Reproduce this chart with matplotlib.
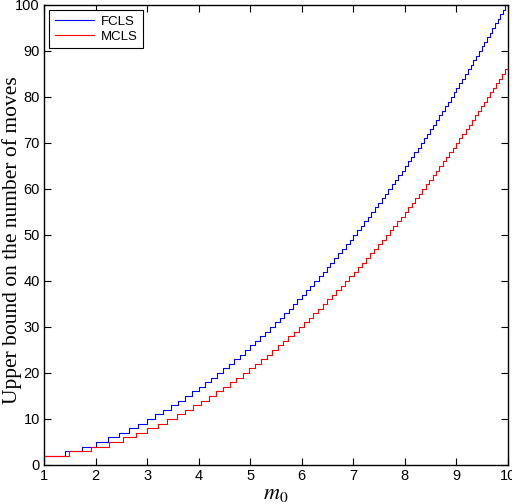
import numpy as np
import matplotlib
matplotlib.use("Agg")
import matplotlib.pyplot as plt

# ---- data ----
x_min, x_max = 1, 10

# FCLS: level at m0 = 1, then +1 at each step position
fcls_start = 2
fcls_steps = [1.414, 1.732, 2.000, 2.236, 2.449, 2.646, 2.828, 3.000, 3.162, 3.317,
              3.464, 3.606, 3.742, 3.873, 4.000, 4.123, 4.243, 4.359, 4.472, 4.583,
              4.690, 4.796, 4.899, 5.000, 5.099, 5.196, 5.292, 5.385, 5.477, 5.568,
              5.657, 5.745, 5.831, 5.916, 6.000, 6.083, 6.164, 6.245, 6.325, 6.403,
              6.481, 6.557, 6.633, 6.708, 6.782, 6.856, 6.928, 7.000, 7.071, 7.141,
              7.211, 7.280, 7.348, 7.416, 7.483, 7.550, 7.616, 7.681, 7.746, 7.810,
              7.874, 7.937, 8.000, 8.062, 8.124, 8.185, 8.246, 8.307, 8.367, 8.426,
              8.485, 8.544, 8.602, 8.660, 8.718, 8.775, 8.832, 8.888, 8.944, 9.000,
              9.055, 9.110, 9.165, 9.220, 9.274, 9.327, 9.381, 9.434, 9.487, 9.539,
              9.592, 9.644, 9.695, 9.747, 9.798, 9.849, 9.899, 9.950]

# MCLS: level at m0 = 1, then +1 at each step position
mcls_start = 2
mcls_steps = [1.481, 1.920, 2.253, 2.533, 2.778, 3.000, 3.204, 3.393, 3.571, 3.739,
              3.898, 4.051, 4.197, 4.338, 4.474, 4.605, 4.732, 4.856, 4.977, 5.094,
              5.207, 5.319, 5.428, 5.535, 5.639, 5.741, 5.841, 5.940, 6.037, 6.131,
              6.225, 6.317, 6.407, 6.497, 6.585, 6.671, 6.757, 6.841, 6.924, 7.006,
              7.088, 7.168, 7.247, 7.325, 7.403, 7.479, 7.555, 7.630, 7.704, 7.777,
              7.850, 7.922, 7.993, 8.063, 8.134, 8.203, 8.271, 8.339, 8.407, 8.474,
              8.540, 8.606, 8.671, 8.736, 8.800, 8.864, 8.927, 8.990, 9.052, 9.114,
              9.176, 9.237, 9.297, 9.357, 9.417, 9.477, 9.536, 9.594, 9.653, 9.710,
              9.768, 9.825, 9.882, 9.938, 9.995]

x_ticks = [1, 2, 3, 4, 5, 6, 7, 8, 9, 10]
y_ticks = [0, 10, 20, 30, 40, 50, 60, 70, 80, 90, 100]


def stair(start, steps):
    xs = [x_min] + list(steps) + [x_max]
    ys = [start + i for i in range(len(steps) + 1)]
    ys = ys + [ys[-1]]
    return xs, ys


plt.rcParams['mathtext.fontset'] = 'stix'
plt.rcParams['font.family'] = ['Liberation Sans', 'DejaVu Sans']

fig = plt.figure(figsize=(5.12, 5.04), dpi=100)
ax = fig.add_axes([44 / 512, 39 / 504, 464 / 512, 460 / 504])

fx, fy = stair(fcls_start, fcls_steps)
mx, my = stair(mcls_start, mcls_steps)
ax.step(fx, fy, where='post', color='#0000ff', lw=0.8, label='FCLS')
ax.step(mx, my, where='post', color='#ff0000', lw=0.8, label='MCLS')

ax.set_xlim(x_min, x_max)
ax.set_ylim(0, 100)
ax.set_xticks(x_ticks)
ax.set_yticks(y_ticks)
ax.tick_params(direction='in', top=True, right=True, length=5, width=0.8,
               labelsize=10.5, pad=3)
for s in ax.spines.values():
    s.set_linewidth(1.0)

ax.set_xlabel(r'$m_0$', fontsize=16, labelpad=0)
ax.set_ylabel('Upper bound on the number of moves', fontsize=15.5,
              family=['Liberation Serif', 'DejaVu Serif'])
ax.yaxis.set_label_coords(-0.047, 0.488)

leg = ax.legend(loc='upper left', fontsize=9.5, fancybox=False, framealpha=1,
                edgecolor='black', borderaxespad=0.4, handlelength=3.0,
                handletextpad=0.5, borderpad=0.4, labelspacing=0.2)
leg.get_frame().set_linewidth(0.8)

fig.savefig('out.png', dpi=100)
